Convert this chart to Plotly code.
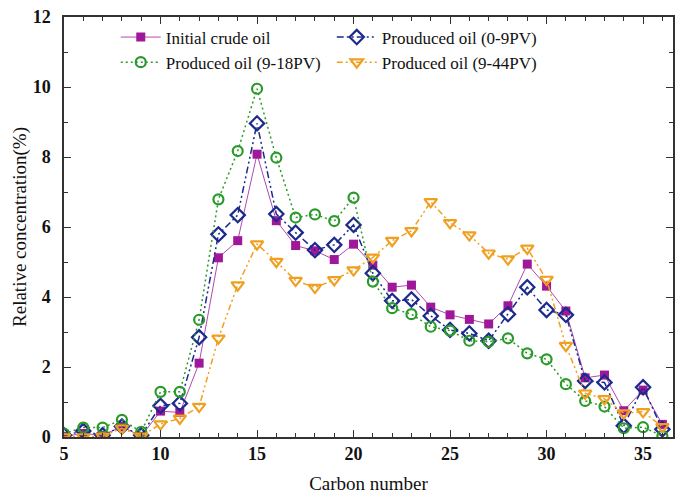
import plotly.graph_objects as go

carbon = list(range(5, 37))

initial = [0.02, 0.10, 0.05, 0.30, 0.02, 0.74, 0.70, 2.11, 5.12, 5.61, 8.08, 6.18, 5.47, 5.32, 5.07, 5.51,
           4.91, 4.28, 4.34, 3.71, 3.49, 3.36, 3.23, 3.75, 4.94, 4.31, 3.60, 1.69, 1.77, 0.75, 1.34, 0.36]
prod_0_9 = [0.05, 0.17, 0.05, 0.30, 0.05, 0.89, 0.96, 2.85, 5.79, 6.34, 8.96, 6.37, 5.84, 5.34, 5.49, 6.06,
            4.68, 3.89, 3.93, 3.46, 3.06, 2.96, 2.75, 3.51, 4.28, 3.63, 3.49, 1.60, 1.56, 0.32, 1.42, 0.22]
prod_9_18 = [0.10, 0.27, 0.27, 0.49, 0.15, 1.29, 1.29, 3.35, 6.79, 8.17, 9.95, 7.98, 6.27, 6.36, 6.17, 6.84,
             4.44, 3.68, 3.51, 3.15, 3.04, 2.75, 2.72, 2.82, 2.39, 2.22, 1.51, 1.03, 0.87, 0.25, 0.28, 0.03]
prod_9_44 = [0.00, 0.00, 0.02, 0.25, 0.02, 0.37, 0.53, 0.87, 2.82, 4.34, 5.51, 5.01, 4.47, 4.27, 4.49, 4.77,
             5.13, 5.61, 5.89, 6.72, 6.12, 5.77, 5.25, 5.08, 5.39, 4.50, 2.61, 1.25, 1.09, 0.68, 0.72, 0.29]

names = ["Initial crude oil", "Prouduced oil (0-9PV)", "Produced oil (9-18PV)", "Produced oil (9-44PV)"]

fig = go.Figure()
fig.add_trace(go.Scatter(
    x=carbon, y=initial, name=names[0], mode="lines+markers",
    line=dict(color="#b04ab0", width=1),
    marker=dict(symbol="square", size=9, color="#a0189a", line=dict(width=0))))
fig.add_trace(go.Scatter(
    x=carbon, y=prod_0_9, name=names[1], mode="lines+markers",
    line=dict(color="#1c2a8c", width=1.5, dash="7px,3px,2px,3px,2px,3px"),
    marker=dict(symbol="diamond-open", size=11, color="#1c2a8c", line=dict(width=2.2))))
fig.add_trace(go.Scatter(
    x=carbon, y=prod_9_18, name=names[2], mode="lines+markers",
    line=dict(color="#2a9a2a", width=1.5, dash="2px,3px"),
    marker=dict(symbol="circle-open", size=10, color="#2a9a2a", line=dict(width=2.2))))
fig.add_trace(go.Scatter(
    x=carbon, y=prod_9_44, name=names[3], mode="lines+markers",
    line=dict(color="#f0a020", width=1.5, dash="6px,3px,2px,3px,2px,3px"),
    marker=dict(symbol="triangle-down-open", size=11, color="#f0a020", line=dict(width=2.2))))

font_family = "Liberation Serif"
axis_common = dict(
    showline=True, linecolor="#333333", linewidth=1.5, mirror="ticks",
    ticks="inside", ticklen=7, tickwidth=1.3, tickcolor="#333333",
    showgrid=False, zeroline=False,
    tickfont=dict(family=font_family, size=18, color="#111111", weight="bold"),
)

fig.update_xaxes(
    range=[5, 36.55], tick0=5, dtick=5,
    minor=dict(ticks="inside", ticklen=4, dtick=1, tick0=5, tickcolor="#333333", tickwidth=1),
    title=dict(text="Carbon number", font=dict(family=font_family, size=19, color="#111111"), standoff=13),
    **axis_common)
fig.update_yaxes(
    range=[0, 12], tick0=0, dtick=2, ticklabelstandoff=8,
    minor=dict(ticks="inside", ticklen=4, dtick=1, tick0=0, tickcolor="#333333", tickwidth=1),
    title=dict(text="Relative concentration(%)", font=dict(family=font_family, size=19, color="#111111"), standoff=1),
    **axis_common)

fig.update_layout(
    width=675, height=497,
    margin=dict(l=64, r=0, t=17, b=60),
    plot_bgcolor="white", paper_bgcolor="white",
    font=dict(family=font_family),
    legend=dict(
        orientation="h", x=0.085, y=0.994, xanchor="left", yanchor="top",
        entrywidth=161, entrywidthmode="pixels",
        font=dict(family=font_family, size=17, color="#111111"),
        bgcolor="rgba(0,0,0,0)", tracegroupgap=0, itemwidth=40,
    ),
    showlegend=True,
)

fig.write_html("out.html")
